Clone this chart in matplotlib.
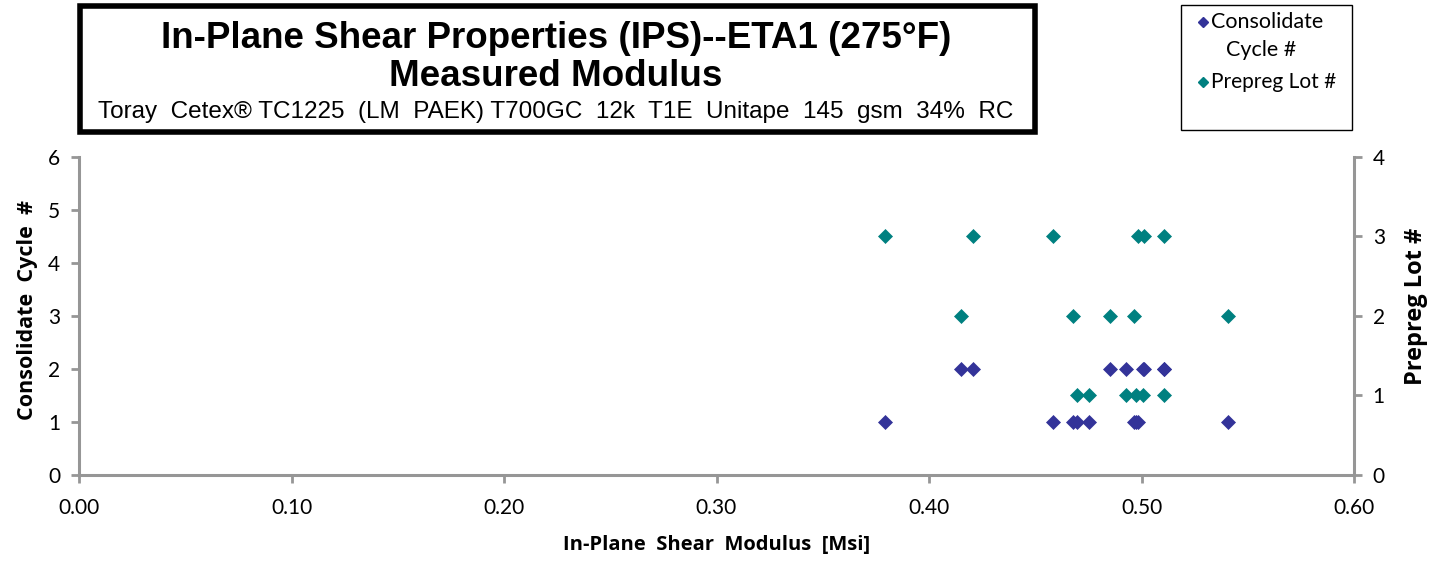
import numpy as np
import matplotlib
matplotlib.use('Agg')
import matplotlib.pyplot as plt
from matplotlib.patches import Rectangle
from matplotlib.lines import Line2D

# data: modulus, consolidate cycle, prepreg lot
modulus = [0.3791, 0.4207, 0.4583, 0.4983, 0.5013, 0.5108,
           0.4149, 0.4677, 0.4854, 0.4967, 0.5409,
           0.4696, 0.4752, 0.4926, 0.4976, 0.5008, 0.5108]
cycle = [1, 2, 1, 1, 2, 2,
         2, 1, 2, 1, 1,
         1, 1, 2, 1, 2, 2]
lot = [3, 3, 3, 3, 3, 3,
       2, 2, 2, 2, 2,
       1, 1, 1, 1, 1, 1]

x_ticks = [0.0, 0.1, 0.2, 0.3, 0.4, 0.5, 0.6]
y_ticks = [0, 1, 2, 3, 4, 5, 6]
y2_ticks = [0, 1, 2, 3, 4]

c_cycle = '#333399'
c_lot = '#008080'
axis_grey = '#969696'
tick_font = ['Lato', 'DejaVu Sans']
label_font = ['Open Sans', 'DejaVu Sans']

fig = plt.figure(figsize=(14.29, 5.63), dpi=100)
ax = fig.add_axes([79/1429, 88/563, 1275/1429, 318/563])
ax2 = ax.twinx()

ax.plot(modulus, cycle, linestyle='none', marker='D', ms=7, mew=0.5, color=c_cycle, zorder=3)
ax2.plot(modulus, lot, linestyle='none', marker='D', ms=7, mew=0.5, color=c_lot, zorder=3)

ax.set_xlim(0, 0.6)
ax.set_ylim(0, 6)
ax2.set_ylim(0, 4)
ax.set_xticks(x_ticks)
ax.set_xticklabels(['%.2f' % v for v in x_ticks], fontsize=15, family=tick_font)
ax.set_yticks(y_ticks)
ax.set_yticklabels([str(v) for v in y_ticks], fontsize=15, family=tick_font)
ax2.set_yticks(y2_ticks)
ax2.set_yticklabels([str(v) for v in y2_ticks], fontsize=15, family=tick_font)

for a in (ax, ax2):
    a.spines['top'].set_visible(False)
    for s in ('left', 'right', 'bottom'):
        a.spines[s].set_color(axis_grey)
        a.spines[s].set_linewidth(2.2)
    a.tick_params(color=axis_grey, width=2, length=5.5, direction='out', pad=8)
ax.tick_params(axis='x', pad=11)
ax.spines['right'].set_visible(False)
ax2.spines['left'].set_visible(False)
ax2.spines['bottom'].set_visible(False)

ax.set_xlabel('In-Plane  Shear  Modulus  [Msi]', fontsize=14.5, fontweight='bold', family=label_font)
ax.xaxis.set_label_coords(0.5, -0.19)
ax.set_ylabel('Consolidate  Cycle  #', fontsize=15.5, fontweight='bold', family=label_font)
ax.yaxis.set_label_coords(-0.032, 0.519)
ax2.set_ylabel('Prepreg Lot #', fontsize=17, fontweight='bold', family=label_font)
ax2.yaxis.set_label_coords(1.039, 0.531)

# title box
fig.patches.append(Rectangle((80/1429, (563-132)/563), 955/1429, 126/563, transform=fig.transFigure,
                             fill=False, edgecolor='black', linewidth=4))
title_font = ['Liberation Sans', 'DejaVu Sans']
fig.text(556/1429, 1 - 39/563, 'In-Plane Shear Properties (IPS)--ETA1 (275°F)', ha='center', va='center',
         fontsize=26.5, fontweight='bold', family=title_font)
fig.text(556/1429, 1 - 76/563, 'Measured Modulus', ha='center', va='center',
         fontsize=26.5, fontweight='bold', family=title_font)
fig.text(556/1429, 1 - 112/563, 'Toray  Cetex® TC1225  (LM  PAEK) T700GC  12k  T1E  Unitape  145  gsm  34%  RC',
         ha='center', va='center', fontsize=17.5, family=title_font)

# legend box
fig.patches.append(Rectangle((1181/1429, (563-130)/563), 171/1429, 125/563, transform=fig.transFigure,
                             fill=False, edgecolor='black', linewidth=1))
fig.add_artist(Line2D([1203/1429], [1 - 22/563], marker='D', ms=4.8, color=c_cycle, transform=fig.transFigure))
fig.text(1211/1429, 1 - 22/563, 'Consolidate', va='center', fontsize=15.5, family=tick_font)
fig.text(1226/1429, 1 - 50/563, 'Cycle #', va='center', fontsize=15.5, family=tick_font)
fig.add_artist(Line2D([1203/1429], [1 - 82/563], marker='D', ms=4.8, color=c_lot, transform=fig.transFigure))
fig.text(1211/1429, 1 - 82/563, 'Prepreg Lot #', va='center', fontsize=15, family=tick_font)

fig.savefig('out.png', dpi=100)
